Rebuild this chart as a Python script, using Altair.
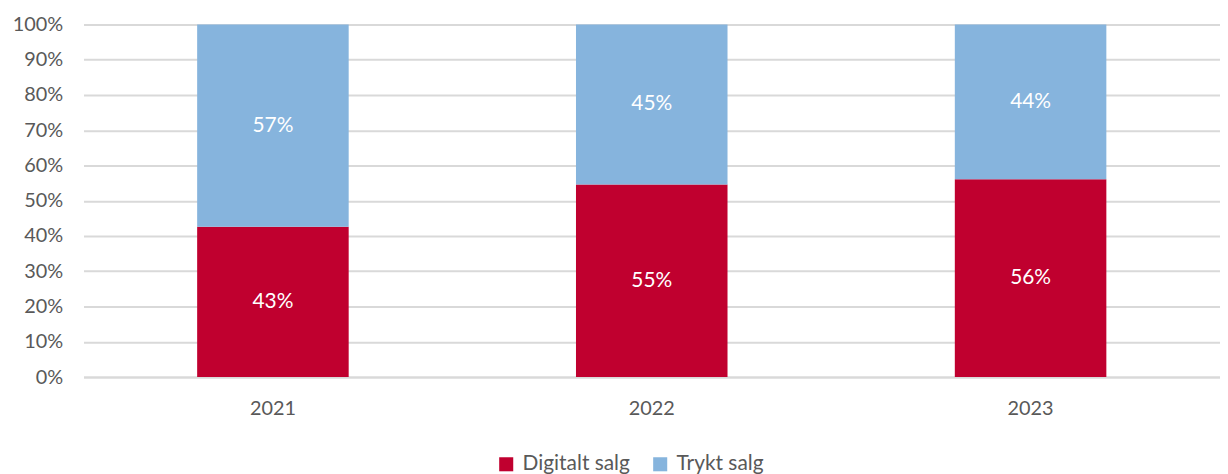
import altair as alt
import pandas as pd

years = ["2021", "2022", "2023"]
digital = [0.426, 0.546, 0.561]
trykt = [0.574, 0.454, 0.439]
series = ["Digitalt salg", "Trykt salg"]
colors = ["#C0002F", "#86B4DD"]
ticks = [0.0, 0.1, 0.2, 0.3, 0.4, 0.5, 0.6, 0.7, 0.8, 0.9, 1.0]

rows = []
for i, yr in enumerate(years):
    rows.append({"year": yr, "series": series[0], "value": digital[i], "ord": 0})
    rows.append({"year": yr, "series": series[1], "value": trykt[i], "ord": 1})
df = pd.DataFrame(rows)

FONT = "Lato"
GRAY = "#595959"

base = alt.Chart(df).transform_stack(
    stack="value", groupby=["year"], as_=["v0", "v1"], sort=[alt.SortField("ord")]
).transform_calculate(mid="(datum.v0 + datum.v1) / 2")

xscale = alt.Scale(paddingInner=0.6, paddingOuter=0.3)
yscale = alt.Scale(domain=[0, 1], nice=False)
xaxis = alt.Axis(labelAngle=0, labelFont=FONT, labelFontSize=20, labelColor=GRAY,
                 labelPadding=22, ticks=False, domainColor="#D9D9D9", domainWidth=2)
yaxis = alt.Axis(format=".0%", values=ticks, labelFont=FONT, labelFontSize=20,
                 labelColor=GRAY, labelPadding=21, ticks=False, domain=False,
                 labelOverlap=False, labelBound=False,
                 grid=True, gridColor="#D9D9D9", gridWidth=2)

bars = base.mark_bar().encode(
    x=alt.X("year:N", title=None, scale=xscale, axis=xaxis),
    y=alt.Y("v0:Q", title=None, scale=yscale, axis=yaxis),
    y2="v1:Q",
    color=alt.Color("series:N", scale=alt.Scale(domain=series, range=colors),
                    legend=alt.Legend(title=None, orient="none", direction="horizontal",
                                      legendX=415, legendY=432, symbolType="square",
                                      symbolSize=200, symbolStrokeWidth=0,
                                      labelFont=FONT, labelFontSize=21, labelColor=GRAY,
                                      columnPadding=20, labelOffset=6)),
)

labels = base.mark_text(color="white", font=FONT, fontSize=21).encode(
    x=alt.X("year:N", title=None, scale=xscale, axis=xaxis),
    y=alt.Y("mid:Q", title=None, scale=yscale, axis=yaxis),
    text=alt.Text("value:Q", format=".0%"),
)

chart = (bars + labels).properties(
    width=1144, height=355,
    padding={"left": 76, "top": 15, "right": 0, "bottom": 96},
    autosize=alt.AutoSizeParams(type="none"),
    background="white",
).configure_view(stroke=None)

chart.save("out.html", embed_options={"renderer": "svg", "actions": False})
